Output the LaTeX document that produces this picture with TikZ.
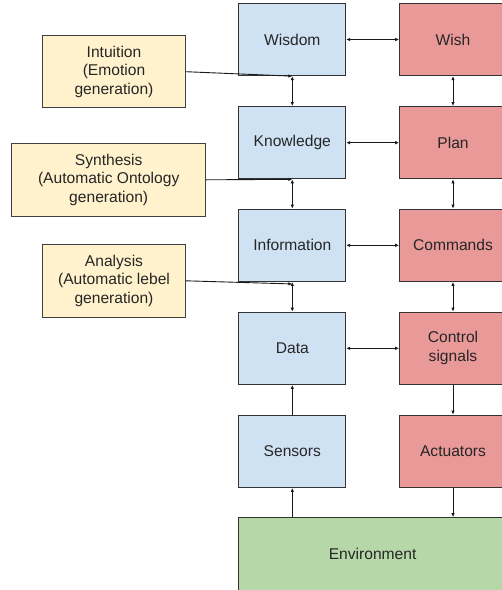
\documentclass[tikz,border=0pt]{standalone}
\usepackage{fontspec}
\setmainfont{Liberation Sans}
\usepackage{xcolor}
\usetikzlibrary{arrows.meta}
\definecolor{sensecol}{HTML}{CFE2F3}
\definecolor{actcol}{HTML}{EA9999}
\definecolor{ideacol}{HTML}{FFF2CC}
\definecolor{envcol}{HTML}{B6D7A8}
\begin{document}
\begin{tikzpicture}[x=1pt, y=-1pt,
  every node/.style={font=\fontsize{15.6}{18.7}\selectfont, text=black!85},
  box/.style={draw=black!80, line width=1pt, minimum width=106.7pt, minimum height=72.3pt, align=center, inner sep=0pt},
  idea/.style={draw=black!75, line width=1pt, fill=ideacol, minimum height=72.5pt, align=center, inner sep=0pt},
  link/.style={line width=0.9pt, black!90},
  tip/.style={-{Latex[length=4pt,width=3.5pt]}},
  tips/.style={{Latex[length=4pt,width=3.5pt]}-{Latex[length=4pt,width=3.5pt]}}]
\useasboundingbox (0,0) rectangle (502,590);
% Sensing side
\node[box, fill=sensecol] (wisdom) at (292.3,39.5) {Wisdom};
\node[box, fill=sensecol] (knowledge) at (292.3,142.7) {Knowledge};
\node[box, fill=sensecol] (information) at (292.3,245.3) {Information};
\node[box, fill=sensecol] (data) at (292.3,348.3) {Data};
\node[box, fill=sensecol] (sensors) at (292.3,451.3) {Sensors};
% Acting side
\node[box, fill=actcol] (wish) at (453,39.5) {Wish};
\node[box, fill=actcol] (plan) at (453,142.7) {Plan};
\node[box, fill=actcol] (commands) at (453,245.3) {Commands};
\node[box, fill=actcol] (control) at (453,348.3) {Control\\signals};
\node[box, fill=actcol] (actuators) at (453,451.3) {Actuators};
% Environment
\node[box, fill=envcol, minimum width=267.3pt, minimum height=73.3pt] (environment) at (372.6,554.3) {Environment};
% Generators
\node[idea, minimum width=142.7pt] (intuition) at (114,71.7) {Intuition\\(Emotion\\generation)};
\node[idea, minimum width=194pt] (synthesis) at (108.7,179.8) {Synthesis\\(Automatic Ontology\\generation)};
\node[idea, minimum width=142.7pt] (analysis) at (114,280.8) {Analysis\\(Automatic lebel\\generation)};
% Vertical links
\draw[link, tips] (wisdom) -- (knowledge);
\draw[link, tips] (knowledge) -- (information);
\draw[link, tips] (information) -- (data);
\draw[link, tip] (sensors) -- (data);
\draw[link, tip] (sensors |- environment.north) -- (sensors);
\draw[link, tips] (wish) -- (plan);
\draw[link, tips] (plan) -- (commands);
\draw[link, tips] (commands) -- (control);
\draw[link, tip] (control) -- (actuators);
\draw[link, tip] (actuators) -- (actuators |- environment.north);
% Horizontal links
\draw[link, tips] (wisdom) -- (wish);
\draw[link, tips] (knowledge) -- (plan);
\draw[link, tips] (information) -- (commands);
\draw[link, tips] (data) -- (control);
% Generator links
\draw[link, tip] (intuition.east) -- (wisdom.south);
\draw[link, tip] (synthesis.east) -- (knowledge.south);
\draw[link, tip] (analysis.east) -- ([yshift=-2pt]information.south);
\end{tikzpicture}
\end{document}
